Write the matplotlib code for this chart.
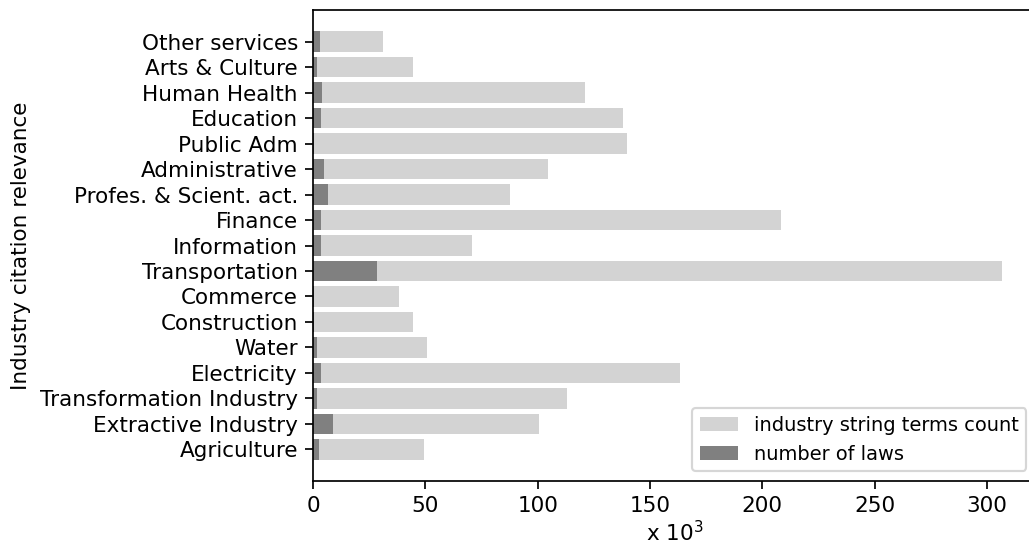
import matplotlib
matplotlib.use('Agg')
import matplotlib.pyplot as plt

# Industry sectors, bottom to top
industries = ['Agriculture', 'Extractive Industry', 'Transformation Industry', 'Electricity',
              'Water', 'Construction', 'Commerce', 'Transportation', 'Information',
              'Finance', 'Profes. & Scient. act.', 'Administrative', 'Public Adm',
              'Education', 'Human Health', 'Arts & Culture', 'Other services']

# Counts in thousands
string_terms = [49.4, 100.6, 113.0, 163.3, 50.7, 44.5, 38.3, 306.6, 70.8,
                208.3, 87.7, 104.6, 139.7, 138.0, 121.0, 44.5, 31.2]
laws = [2.6, 8.9, 1.6, 3.5, 1.6, 0.5, 0.5, 28.3, 3.5,
        3.5, 6.5, 4.8, 0.6, 3.5, 3.9, 1.6, 3.0]

dpi = 155
fig = plt.figure(figsize=(1029 / dpi, 544 / dpi), dpi=dpi)
ax = fig.add_axes([0.3042, 0.1158, 0.7027, 0.8658])

ax.barh(industries, string_terms, color='lightgrey', label='industry string terms count')
ax.barh(industries, laws, color='grey', label='number of laws')

ax.set_xlabel('x $10^3$', labelpad=1.8)
ax.set_ylabel('Industry citation relevance')
ax.legend(loc='lower right', fontsize=9)

fig.savefig('out.png', dpi=dpi)
